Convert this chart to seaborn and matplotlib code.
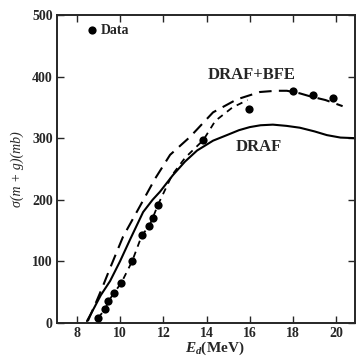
import pandas as pd
import matplotlib
matplotlib.use("Agg")
import matplotlib.pyplot as plt
import seaborn as sns

data_e = [8.97, 9.3, 9.45, 9.7, 10.05, 10.55, 11.0, 11.35, 11.5, 11.75,
          13.85, 15.95, 18.0, 18.95, 19.85]
data_sigma = [8, 22, 35, 48, 65, 100, 142, 158, 170, 192,
              297, 348, 377, 370, 365]

# DRAF calculation (solid)
draf_e = [8.46, 8.8, 9.1, 9.53, 9.99, 10.45, 11.06, 11.5, 11.84, 12.44,
          13.0, 13.56, 14.3, 14.94, 15.5, 16.0, 16.5, 17.07, 17.7, 18.32,
          19.0, 19.57, 20.2, 20.9]
draf_sigma = [3, 25, 45, 68, 100, 135, 180, 200, 213, 240,
              262, 280, 296, 305, 313, 318, 321, 322, 320, 317,
              311, 305, 301, 300]

# DRAF + BFE calculation (dashed)
bfe_e = [8.5, 8.9, 9.2, 9.53, 10.13, 10.92, 11.61, 12.31, 13.23, 14.3,
         15.4, 16.47, 17.2, 17.72, 18.3, 18.79, 19.5, 20.3]
bfe_sigma = [3, 35, 60, 89, 140, 190, 234, 273, 302, 342,
             363, 375, 377, 377, 373, 368, 362, 352]

# trend line through the data (short dashes)
trend_e = [8.97, 9.3, 9.45, 9.7, 10.05, 10.55, 11.0, 11.35, 11.5, 11.75,
           12.4, 13.0, 13.85, 14.4, 15.2, 15.9]
trend_sigma = [8, 22, 35, 48, 65, 100, 142, 158, 170, 192,
               240, 268, 297, 328, 350, 362]

x_ticks = [8, 10, 12, 14, 16, 18, 20]
y_ticks = [0, 100, 200, 300, 400, 500]

sns.set_style("ticks")
plt.rcParams["font.family"] = ["Liberation Serif", "DejaVu Serif"]
plt.rcParams["mathtext.fontset"] = "custom"
plt.rcParams["mathtext.it"] = "Liberation Serif:bold:italic"
plt.rcParams["mathtext.rm"] = "Liberation Serif:bold"

df_data = pd.DataFrame({"E": data_e, "sigma": data_sigma})
df_draf = pd.DataFrame({"E": draf_e, "sigma": draf_sigma})
df_bfe = pd.DataFrame({"E": bfe_e, "sigma": bfe_sigma})
df_trend = pd.DataFrame({"E": trend_e, "sigma": trend_sigma})

fig = plt.figure(figsize=(3.56, 3.58), dpi=100)
ax = fig.add_axes([0.160, 0.098, 0.837, 0.860])

sns.lineplot(data=df_draf, x="E", y="sigma", ax=ax, color="black",
             linewidth=1.5, sort=False)
sns.lineplot(data=df_bfe, x="E", y="sigma", ax=ax, color="black",
             linewidth=1.5, sort=False)
ax.lines[-1].set_dashes((6, 3.5))
sns.lineplot(data=df_trend, x="E", y="sigma", ax=ax, color="black",
             linewidth=1.3, sort=False)
ax.lines[-1].set_dashes((3.5, 3))
sns.scatterplot(data=df_data, x="E", y="sigma", ax=ax, color="black",
                s=35, edgecolor="black", linewidth=0, zorder=5, label="Data")

ax.set_xlim(7.07, 20.87)
ax.set_ylim(0, 500)
ax.set_xticks(x_ticks)
ax.set_yticks(y_ticks)
ax.tick_params(direction="in", top=True, right=True, length=5, width=1,
               labelsize=10, pad=3)
for lab in ax.get_xticklabels() + ax.get_yticklabels():
    lab.set_fontweight("bold")
for sp in ax.spines.values():
    sp.set_linewidth(1.4)

ax.set_xlabel(r"$E_d$(MeV)", fontsize=11, fontweight="bold", labelpad=1)
ax.xaxis.set_label_coords(0.53, -0.055)
ax.set_ylabel("σ(m + g)(mb)", fontsize=10, fontstyle="italic", labelpad=6)

ax.text(16.1, 403, "DRAF+BFE", fontsize=12, fontweight="bold",
        ha="center", va="center")
ax.text(16.4, 285, "DRAF", fontsize=12, fontweight="bold",
        ha="center", va="center")

ax.legend(loc="center left", bbox_to_anchor=(0.099, 0.951), frameon=False,
          handlelength=0.8, handletextpad=0.2, borderpad=0, borderaxespad=0,
          scatterpoints=1, prop={"family": "Liberation Serif", "weight": "bold",
                                 "size": 10})

fig.savefig("out.png", dpi=100)
